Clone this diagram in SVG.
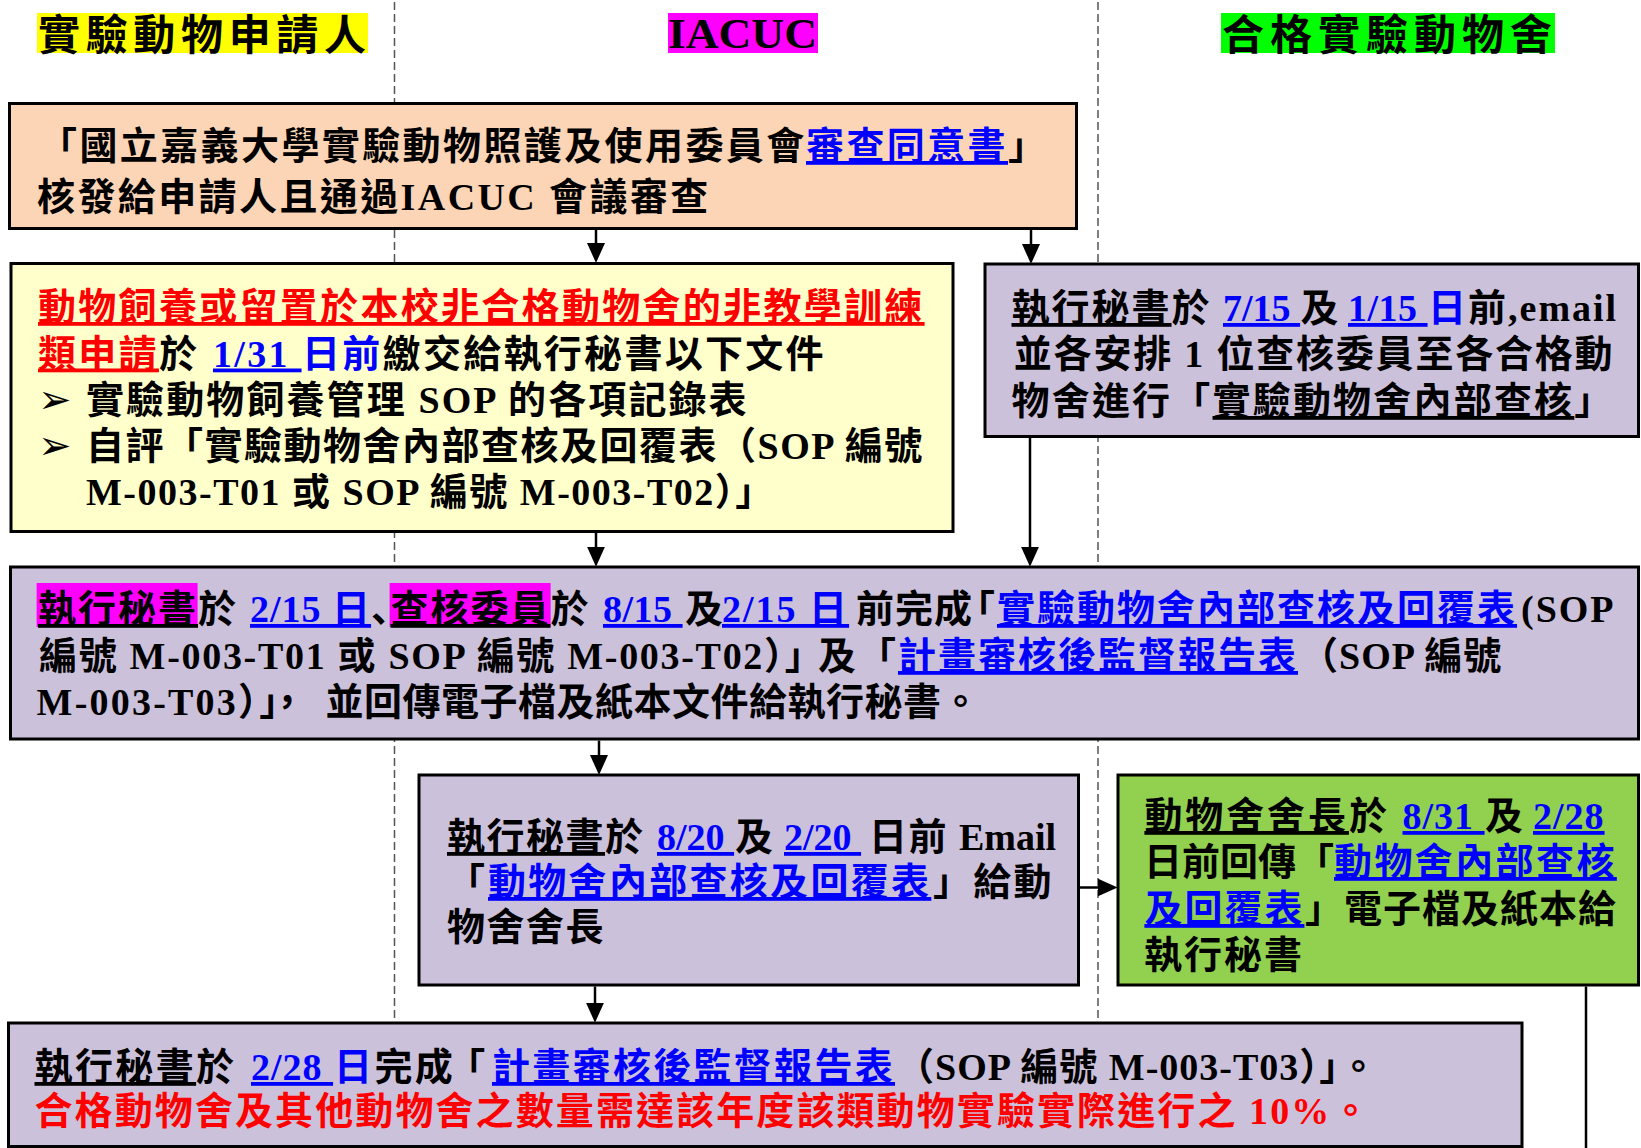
<svg xmlns="http://www.w3.org/2000/svg" width="1641" height="1148" viewBox="0 0 1641 1148">
<defs>
<style>
.t{font-family:"Liberation Serif","Noto Sans CJK TC",serif;font-weight:bold;font-size:38px;fill:#000;}
.h{font-family:"Liberation Serif","Noto Sans CJK TC",serif;font-weight:bold;font-size:42px;fill:#000;}
.jp{font-family:"Liberation Serif","Noto Sans CJK JP",serif;}
.u{text-decoration:underline;}
.bu{fill:#0000FF;text-decoration:underline;}
.b{fill:#0000FF;}
.r{fill:#FF0000;}
.ru{fill:#FF0000;text-decoration:underline;}
.bul{font-family:"DejaVu Sans",sans-serif;font-weight:normal;font-size:40px;}
.box{stroke:#000;stroke-width:3;}
.lane{stroke:#555;stroke-width:1.5;stroke-dasharray:8 4;fill:none;}
.conn{stroke:#000;stroke-width:2.5;fill:none;}
</style>
<marker id="arr" viewBox="0 0 20 18" refX="12" refY="9" markerWidth="20" markerHeight="18" markerUnits="userSpaceOnUse" orient="auto">
<path d="M0,0 L20,9 L0,18 z" fill="#000"/>
</marker>
</defs>
<rect width="1641" height="1148" fill="#fff"/>
<g id="lanes">
<line class="lane" x1="394.5" y1="2" x2="394.5" y2="1022"/>
<line class="lane" x1="1098" y1="2" x2="1098" y2="1022"/>
</g>
<g id="headers">
<g id="header-applicant">
<rect x="37" y="13" width="331" height="40" fill="#FFFF00"/>
<text class="h" x="38" y="50" textLength="328" lengthAdjust="spacing">實驗動物申請人</text>
</g>
<g id="header-iacuc">
<rect x="668" y="13" width="150" height="40" fill="#FF00FF"/>
<text class="h" x="668" y="48" font-size="50" textLength="149" lengthAdjust="spacingAndGlyphs">IACUC</text>
</g>
<g id="header-facility">
<rect x="1221" y="13" width="334" height="40" fill="#00FF00"/>
<text class="h" x="1222" y="50" textLength="330" lengthAdjust="spacing">合格實驗動物舍</text>
</g>
</g>
<g id="node-approval">
<rect class="box" x="9.5" y="103.5" width="1067" height="125" fill="#FBD5B5"/>
<text class="t" x="39" y="159" letter-spacing="2.4">「國立嘉義大學實驗動物照護及使用委員會<tspan x="806" class="bu">審查同意書</tspan>」</text>
<text class="t" x="37" y="210" letter-spacing="2.4">核發給申請人且通過IACUC 會議審查</text>
</g>
<g id="node-nonfacility">
<rect class="box" x="11" y="263.5" width="942" height="268" fill="#FFFFCC"/>
<text class="t ru" x="38" y="320" letter-spacing="2.3">動物飼養或留置於本校非合格動物舍的非教學訓練</text>
<text class="t" y="366.5" letter-spacing="2.3"><tspan x="38" class="ru">類申請</tspan>於 <tspan x="213" class="bu">1/31 </tspan><tspan x="302" class="b">日前</tspan>繳交給執行秘書以下文件</text>
<text class="t" y="413" letter-spacing="2.1"><tspan x="38" class="bul">➢</tspan><tspan x="86">實驗動物飼養管理 SOP 的各項記錄表</tspan></text>
<text class="t" y="459" letter-spacing="1.5"><tspan x="38" class="bul">➢</tspan><tspan x="86">自評「實驗動物舍內部查核及回覆表（SOP 編號</tspan></text>
<text class="t" x="86" y="505" letter-spacing="1.5">M-003-T01 或 SOP 編號 M-003-T02）」</text>
</g>
<g id="node-secretary-schedule">
<rect class="box" x="985" y="264" width="653.5" height="172.5" fill="#CCC1DA"/>
<text class="t" y="321" letter-spacing="2"><tspan x="1011.5" class="u">執行秘書</tspan>於 <tspan x="1223" class="bu" letter-spacing="0">7/15 </tspan><tspan x="1300.5" letter-spacing="0">及 </tspan><tspan x="1348" class="bu" letter-spacing="0.5">1/15 </tspan><tspan x="1428" class="b">日</tspan>前,email</text>
<text class="t" x="1013.8" y="367" letter-spacing="1.8">並各安排 1 位查核委員至各合格動</text>
<text class="t" x="1011.5" y="414" letter-spacing="2.2">物舍進行「<tspan class="u">實驗動物舍內部查核</tspan>」</text>
</g>
<g id="node-audit">
<rect class="box" x="10.5" y="567" width="1628" height="172" fill="#CCC1DA"/>
<rect x="36.6" y="583" width="161" height="44" fill="#FF00FF"/>
<rect x="389.6" y="583" width="161" height="44" fill="#FF00FF"/>
<text class="t" y="622" letter-spacing="2"><tspan x="38" class="u">執行秘書</tspan>於 <tspan x="250" class="bu" letter-spacing="1">2/15 日</tspan><tspan class="jp" letter-spacing="-19">、</tspan><tspan x="390.5" class="u">查核委員</tspan>於 <tspan x="603" class="bu" letter-spacing="0.5">8/15 </tspan><tspan x="685" letter-spacing="-6">及 </tspan><tspan x="722" class="bu">2/15 日</tspan><tspan x="856" letter-spacing="1" dx="0 0 0 -16">前完成「</tspan><tspan x="997" class="bu">實驗動物舍內部查核及回覆表</tspan><tspan x="1521">(SOP</tspan></text>
<text class="t" y="669" letter-spacing="1.7"><tspan x="39">編號 M-003-T01 或 SOP 編號 M-003-T02）」</tspan><tspan x="818" letter-spacing="2">及「</tspan><tspan x="898" class="bu" letter-spacing="2">計畫審核後監督報告表</tspan><tspan x="1300" letter-spacing="1">（SOP 編號</tspan></text>
<text class="t" y="715"><tspan x="36.6" letter-spacing="2.2" dx="0 0 0 0 0 0 0 0 0 0 0 -12">M-003-T03）」，</tspan><tspan x="325.5" letter-spacing="0.5">並回傳電子檔及紙本文件給執行秘書。</tspan></text>
</g>
<g id="node-email-head">
<rect class="box" x="419" y="775" width="659.5" height="210" fill="#CCC1DA"/>
<text class="t" y="850" letter-spacing="1.5"><tspan x="447" class="u">執行秘書</tspan>於 <tspan x="657" class="bu" letter-spacing="0">8/20 </tspan><tspan x="735" letter-spacing="0">及 </tspan><tspan x="784" class="bu" letter-spacing="0">2/20 </tspan><tspan x="869">日前 <tspan letter-spacing="0">Email</tspan></tspan></text>
<text class="t" y="895" letter-spacing="2.3"><tspan x="447">「</tspan><tspan x="488" class="bu">動物舍內部查核及回覆表</tspan><tspan x="933">」給動</tspan></text>
<text class="t" x="447" y="940" letter-spacing="1.5">物舍舍長</text>
</g>
<g id="node-facility-head">
<rect class="box" x="1118" y="775" width="520.5" height="210" fill="#92D050"/>
<text class="t" y="829" letter-spacing="2.9"><tspan x="1144.4" class="u">動物舍舍長</tspan>於 <tspan x="1402.5" class="bu" letter-spacing="1">8/31 </tspan><tspan x="1485" letter-spacing="0">及 </tspan><tspan x="1533" class="bu" letter-spacing="1">2/28</tspan></text>
<text class="t" y="875"><tspan x="1144" letter-spacing="0">日前回傳「</tspan><tspan x="1334" class="bu" letter-spacing="2.4">動物舍內部查核</tspan></text>
<text class="t" y="922"><tspan x="1144.4" class="bu" letter-spacing="2">及回覆表</tspan><tspan x="1305" letter-spacing="1">」電子檔及紙本給</tspan></text>
<text class="t" x="1144" y="968" letter-spacing="2">執行秘書</text>
</g>
<g id="node-report">
<rect class="box" x="8.5" y="1023" width="1513.5" height="123.5" fill="#CCC1DA"/>
<text class="t" y="1080" letter-spacing="2.4"><tspan x="34.5" class="u">執行秘書</tspan>於 <tspan x="251" class="bu" letter-spacing="1">2/28 </tspan><tspan x="334" class="b">日</tspan><tspan dx="0 0 -8">完成「</tspan><tspan x="492" class="bu" letter-spacing="2.3">計畫審核後監督報告表</tspan><tspan x="896" letter-spacing="1">（SOP 編號 M-003-T03）」。</tspan></text>
<text class="t r" x="34.5" y="1124" letter-spacing="2.1">合格動物舍及其他動物舍之數量需達該年度該類動物實驗實際進行之 10%。</text>
</g>
<g id="connectors">
<path class="conn" d="M596,229.5 V255" marker-end="url(#arr)"/>
<path class="conn" d="M1031,229.5 V256" marker-end="url(#arr)"/>
<path class="conn" d="M596,533 V558.7" marker-end="url(#arr)"/>
<path class="conn" d="M1030,438 V558.7" marker-end="url(#arr)"/>
<path class="conn" d="M599,740.5 V767" marker-end="url(#arr)"/>
<path class="conn" d="M1080,887.5 H1109.6" marker-end="url(#arr)"/>
<path class="conn" d="M595,986.5 V1014.7" marker-end="url(#arr)"/>
<path class="conn" d="M1586,986.5 V1148"/>
</g>
</svg>
